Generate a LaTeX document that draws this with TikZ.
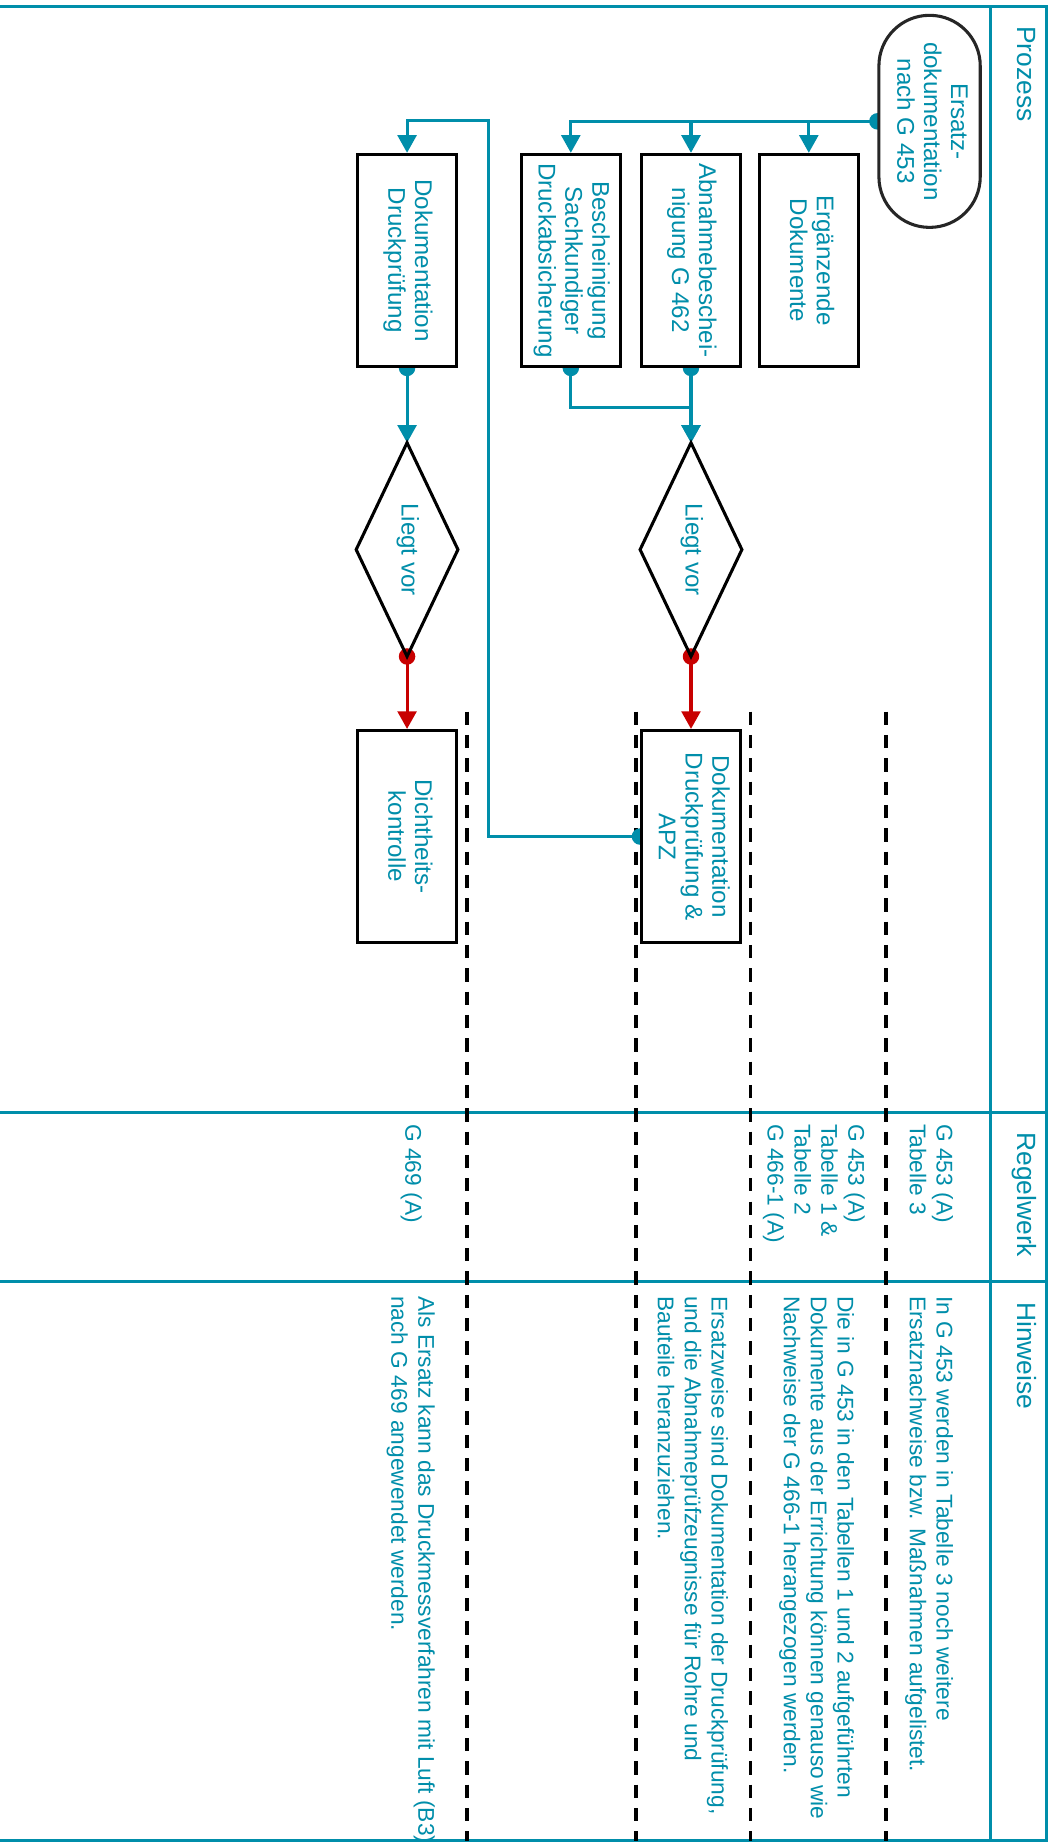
\documentclass[tikz,border=0pt]{standalone}
\usepackage{fontspec}
\setmainfont{Liberation Sans}
\usepackage{graphicx}
\usetikzlibrary{arrows.meta}
\definecolor{tl}{RGB}{0,142,170}
\definecolor{rd}{RGB}{200,0,0}
\pgfdeclarelayer{bg}
\pgfsetlayers{bg,main}
\newcommand{\rtx}[1]{\rotatebox{-90}{\begin{tabular}{@{}c@{}}#1\end{tabular}}}
\begin{document}
\begin{tikzpicture}[x=1pt, y=-1pt,
  pbox/.style={draw=black, line width=2.6pt, fill=white, minimum width=84pt, minimum height=180pt, inner sep=0pt, text=tl, font=\fontsize{20.5}{22.8}\selectfont},
  term/.style={pbox, rounded corners=42.9pt, minimum width=86pt, draw=black!85},
  dia/.style={minimum width=86pt, minimum height=181pt, inner sep=0pt, text=tl, font=\fontsize{20.5}{22.8}\selectfont},
  diaborder/.style={draw=black, line width=2.6pt, line join=miter},
  conn/.style={draw=tl, line width=2.6pt, -{Triangle[length=15pt,width=16pt]}},
  rconn/.style={conn, draw=rd},
  frame/.style={draw=tl, line width=2.6pt},
  sep/.style={draw=black, line width=3pt, dash pattern=on 11.3pt off 8.5pt},
  note/.style={rotate=-90, anchor=base west, align=left, inner sep=0pt, text=tl, font=\fontsize{19.3}{22.8}\selectfont},
  hdr/.style={rotate=-90, anchor=base west, inner sep=0pt, text=tl, font=\fontsize{22.4}{26}\selectfont}]
\path[use as bounding box] (0,0) rectangle (893.8,1566);
\begin{pgfonlayer}{bg}
\fill[white] (0,0) rectangle (893.8,1566);
\end{pgfonlayer}

% process nodes
\node[term] (t) at (789,103) {\rtx{Ersatz-\\dokumentation\\nach G 453}};
\node[pbox] (erg) at (686.5,221) {\rtx{Ergänzende\\Dokumente}};
\node[pbox] (abn) at (586.5,221) {\rtx{Abnahmebeschei-\\nigung G 462}};
\node[pbox] (bes) at (484.5,221) {\rtx{Bescheinigung\\Sachkundiger\\Druckabsicherung}};
\node[pbox] (dok) at (345.5,221) {\rtx{Dokumentation\\Druckprüfung}};
\node[dia] (d1) at (586.5,466.5) {\rtx{Liegt vor}};
\node[dia] (d2) at (345.5,466.5) {\rtx{Liegt vor}};
\draw[diaborder] (d1.north) -- (d1.east) -- (d1.south) -- (d1.west) -- cycle;
\draw[diaborder] (d2.north) -- (d2.east) -- (d2.south) -- (d2.west) -- cycle;
\node[pbox] (apz) at (586.5,710) {\rtx{Dokumentation\\Druckprüfung \&\\APZ}};
\node[pbox] (dic) at (345.5,710) {\rtx{Dichtheits-\\kontrolle}};
\coordinate (c1) at (415,102.5);

\begin{pgfonlayer}{bg}
% frame
\draw[frame] (0,5.5) -- (888.5,5.5) -- (888.5,1562.5) -- (0,1562.5);
\draw[frame] (840.5,5.5) -- (840.5,1562.5);
\draw[frame] (0,944.5) -- (888.5,944.5);
\draw[frame] (0,1088) -- (888.5,1088);
% row separators
\foreach \x in {396.5,540,637,752} \draw[sep] (\x,604) -- (\x,1562.5);
% connectors
\draw[conn] (t.west) -| (bes.north);
\draw[conn] (t.west) -| (abn.north);
\draw[conn] (t.west) -| (erg.north);
\fill[tl] (t.west) circle (7pt);
\draw[conn] (abn.south) -- (d1.north);
\fill[tl] (abn.south) circle (7pt);
\draw[conn] (bes.south) -- ++(0,33.5) -| (d1.north);
\fill[tl] (bes.south) circle (7pt);
\draw[conn] (dok.south) -- (d2.north);
\fill[tl] (dok.south) circle (7pt);
\draw[rconn] (d1.south) -- (apz.north);
\fill[rd] (d1.south) circle (7pt);
\draw[rconn] (d2.south) -- (dic.north);
\fill[rd] (d2.south) circle (7pt);
\draw[conn] (apz.west) -| (c1) -| (dok.north);
\fill[tl] (apz.west) circle (7pt);
\end{pgfonlayer}

% headers
\node[hdr] (hp) at (864,22) {Prozess};
\node[hdr] (hr) at (864,961) {Regelwerk};
\node[hdr] (hh) at (864,1105) {Hinweise};

% Regelwerk (anchor on last line baseline)
\node[note] (r1) at (772.2,954) {G 453 (A)\\Tabelle 3};
\node[note] (r2) at (651.6,954) {G 453 (A)\\Tabelle 1 \&\\Tabelle 2\\G 466-1 (A)};
\node[note] (r4) at (344,954) {G 469 (A)};

% Hinweise
\node[note] (h1) at (772.2,1100) {In G 453 werden in Tabelle 3 noch weitere\\Ersatznachweise bzw. Maßnahmen aufgelistet.};
\node[note] (h2) at (665.4,1100) {Die in G 453 in den Tabellen 1 und 2 aufgeführten\\Dokumente aus der Errichtung können genauso wie\\Nachweise der G 466-1 herangezogen werden.};
\node[note] (h3) at (558.4,1100) {Ersatzweise sind Dokumentation der Druckprüfung,\\und die Abnahmeprüfzeugnisse für Rohre und\\Bauteile heranzuziehen.};
\node[note] (h4) at (332.2,1100) {Als Ersatz kann das Druckmessverfahren mit Luft (B3)\\nach G 469 angewendet werden.};
\end{tikzpicture}
\end{document}
